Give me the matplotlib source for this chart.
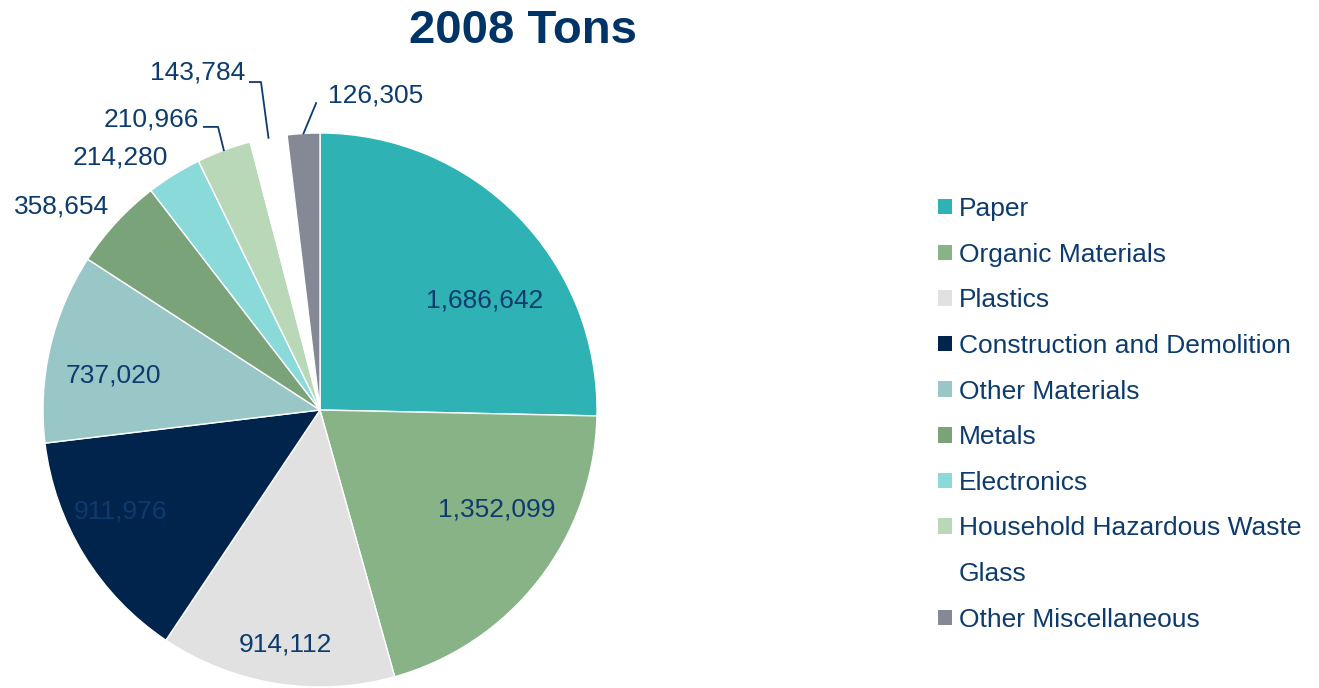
import matplotlib
matplotlib.use("Agg")
import matplotlib.pyplot as plt
from matplotlib.patches import Patch
import numpy as np

plt.rcParams['font.family'] = ['Liberation Sans', 'DejaVu Sans']

categories = ["Paper", "Organic Materials", "Plastics", "Construction and Demolition",
              "Other Materials", "Metals", "Electronics", "Household Hazardous Waste",
              "Glass", "Other Miscellaneous"]
tons = [1686642, 1352099, 914112, 911976, 737020, 358654, 214280, 210966, 143784, 126305]
colors = ["#2EB2B4", "#88B386", "#E1E1E1", "#00244B", "#99C6C6", "#7BA37A",
          "#8ADADA", "#B8D8B8", "#FFFFFF", "#858996"]
title = "2008 Tons"

text_color = "#0D3B6E"
title_color = "#003366"

W, H = 1319, 688
fig = plt.figure(figsize=(W / 100, H / 100), dpi=100)
fig.patch.set_facecolor("white")

# pie axes: center at (320, 410) px from top-left, radius 277 px
R = 277.0
cx, cy = 320.0, 410.0
ax_w = 640.0
ax = fig.add_axes([0, 0, ax_w / W, 1])
wedges, _ = ax.pie(tons, colors=colors, startangle=90, counterclock=False, radius=1,
                   wedgeprops=dict(edgecolor="white", linewidth=1.0))
ax.set_aspect("auto")
ax.set_xlim(-cx / R, (ax_w - cx) / R)
ax.set_ylim(-(H - cy) / R, cy / R)
ax.axis("off")

fmt = [f"{v:,}" for v in tons]

# inside / nearby labels (center positions, data units)
label_pos = {0: (0.596, 0.394), 1: (0.639, -0.361), 2: (-0.126, -0.848),
             3: (-0.722, -0.365), 4: (-0.747, 0.123), 5: (-0.933, 0.736),
             6: (-0.722, 0.913)}
for i, (x, y) in label_pos.items():
    ax.text(x, y, fmt[i], ha="center", va="center", fontsize=19, color=text_color)

# labels with leader lines
def edge_point(w, r=1.0):
    ang = np.deg2rad((w.theta1 + w.theta2) / 2)
    return r * np.cos(ang), r * np.sin(ang)

leaders = {
    7: dict(text=(-0.437, 1.047), ha="right", pts=[(-0.419, 1.022), (-0.368, 1.022)]),
    8: dict(text=(-0.271, 1.217), ha="right", pts=[(-0.253, 1.184), (-0.213, 1.184)]),
    9: dict(text=(0.029, 1.137), ha="left", pts=[(-0.014, 1.108)]),
}
for i, d in leaders.items():
    ax.text(d["text"][0], d["text"][1], fmt[i], ha=d["ha"], va="center",
            fontsize=19, color=text_color)
    ex, ey = edge_point(wedges[i], 1.0)
    xs = [p[0] for p in d["pts"]] + [ex]
    ys = [p[1] for p in d["pts"]] + [ey]
    ax.plot(xs, ys, color=text_color, lw=1.3, clip_on=False)

fig.text(523 / W, 1 - 31 / H, title, ha="center", va="center", fontsize=34,
         fontweight="bold", color=title_color)

handles = [Patch(facecolor=c, edgecolor="none") for c in colors]
leg = fig.legend(handles, categories, loc="upper left",
                 bbox_to_anchor=(938 / W, 1 - 197 / H), frameon=False,
                 fontsize=19, handlelength=0.53, handleheight=0.53,
                 handletextpad=0.25, labelspacing=0.82, borderaxespad=0, borderpad=0)
for t in leg.get_texts():
    t.set_color(text_color)

fig.savefig("out.png", dpi=100, facecolor="white")
